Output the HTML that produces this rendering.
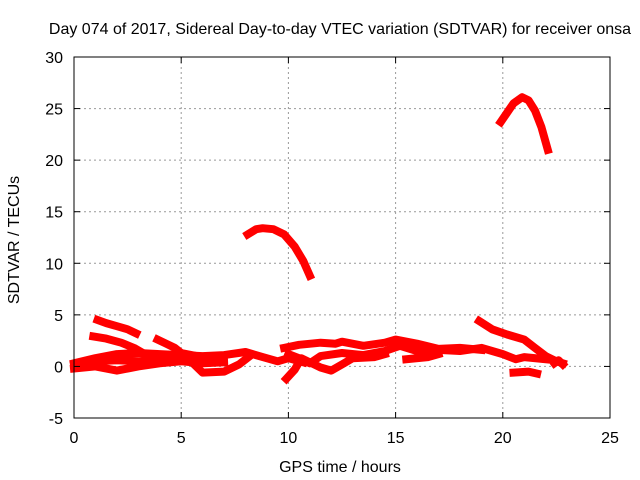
<!DOCTYPE html>
<html><head><meta charset="utf-8"><style>
body{margin:0;background:#fff}
svg{display:block;font-family:"Liberation Sans",sans-serif;font-size:16px}
</style></head><body>
<svg id="c" width="640" height="480">
<text x="340" y="34" text-anchor="middle">Day 074 of 2017, Sidereal Day-to-day VTEC variation (SDTVAR) for receiver onsa</text>
<text x="340" y="472" text-anchor="middle">GPS time / hours</text>
<text transform="translate(19,240) rotate(-90)" text-anchor="middle">SDTVAR / TECUs</text>
<g id="grid"></g><g id="marks"></g><g id="axes"></g>
</svg>
<script>
const xTicks=[0,5,10,15,20,25];
const yTicks=[-5,0,5,10,15,20,25,30];
const trackTimes=[
[8.1,8.5,8.8,9.3,9.8,10.3,10.7,11.0],
[19.9,20.2,20.5,20.9,21.2,21.5,21.8,22.1],
[1.1,1.5,2.0,2.5,2.9],
[0.9,1.5,2.2,2.8,3.3,3.8],
[3.9,4.3,4.7,5.0,5.5],
[0,1,2,3,4,5,6,7,8,8.8,9.5,10,10.7],
[0,1,2,3,4,5,5.5,6,7,7.7,8.2],
[0,1,2,3,4,5,6,7],
[9.8,10.5,11.5,12.2,12.5,13.5,14.5,15,16,17,18,19],
[10,10.5,11,11.5,12.5,13.5,14.5,15.2,16,17,18,19,20,20.6,21,22],
[9.9,10.3,10.6,11,11.5,12,12.5,13,14,14.5],
[18.9,19.5,20.2,21,21.5,22,22.5,22.8],
[20.5,21.2,21.6],
[22.4,22.6,22.8],
[15.5,16.5,17]
];
const trackValues=[
[12.8,13.3,13.4,13.3,12.8,11.6,10.2,8.8],
[23.7,24.6,25.5,26.1,25.8,24.8,23.2,21.0],
[4.5,4.2,3.9,3.6,3.2],
[2.9,2.7,2.3,1.8,1.2,0.7],
[2.6,2.2,1.8,1.3,1.1],
[0.3,0.8,1.2,1.3,1.2,1.1,1.0,1.1,1.4,0.9,0.5,0.8,0.4],
[-0.2,0,-0.4,0,0.3,0.5,0.4,-0.6,-0.5,0.2,1.0],
[0.2,0.5,0.6,0.5,0.7,0.6,0.3,0.4],
[1.8,2.1,2.3,2.2,2.4,2.0,2.3,2.6,2.2,1.7,1.8,1.6],
[1.2,0.8,0.3,1.0,1.3,1.1,1.5,2.0,1.5,1.6,1.5,1.8,1.2,0.7,0.9,0.7],
[-1.2,-0.3,0.8,0.4,-0.1,-0.4,0.2,0.8,0.9,1.2],
[4.4,3.6,3.1,2.6,1.8,1.0,0.5,0.3],
[-0.6,-0.5,-0.7],
[0.3,0.6,0.2],
[0.7,0.9,1.2]
];
const L=74,R=610,T=57,B=418,x0=0,x1=25,y0=-5,y1=30;
const X=v=>L+(v-x0)/(x1-x0)*(R-L);
const Y=v=>B-(v-y0)/(y1-y0)*(B-T);
const NS='http://www.w3.org/2000/svg';
function mk(tag,attrs,parent){const e=document.createElementNS(NS,tag);for(const k in attrs)e.setAttribute(k,attrs[k]);parent.appendChild(e);return e;}
const grid=document.getElementById('grid'),axes=document.getElementById('axes'),marks=document.getElementById('marks');
xTicks.forEach(t=>{
  if(t>x0&&t<x1){const g=mk('line',{x1:X(t),x2:X(t),y1:T,y2:B,stroke:'#999','stroke-dasharray':'2,3'},grid);
  
  }
  mk('line',{x1:X(t),x2:X(t),y1:B,y2:B-6,stroke:'#000'},axes);
  mk('line',{x1:X(t),x2:X(t),y1:T,y2:T+6,stroke:'#000'},axes);
  const l=mk('text',{x:X(t),y:B+25,'text-anchor':'middle'},axes);l.textContent=t;
  
  
});
yTicks.forEach(t=>{
  if(t>y0&&t<y1){const g=mk('line',{x1:L,x2:R,y1:Y(t),y2:Y(t),stroke:'#999','stroke-dasharray':'2,3'},grid);
  
  }
  mk('line',{x1:L,x2:L+6,y1:Y(t),y2:Y(t),stroke:'#000'},axes);
  mk('line',{x1:R,x2:R-6,y1:Y(t),y2:Y(t),stroke:'#000'},axes);
  const l=mk('text',{x:L-11,y:Y(t)+6,'text-anchor':'end'},axes);l.textContent=t;
  
  
});
const fr=mk('rect',{x:L,y:T,width:R-L,height:B-T,fill:'none',stroke:'#000'},axes);


trackTimes.forEach((ts,i)=>{
  const pts=ts.map((t,j)=>X(t).toFixed(1)+','+Y(trackValues[i][j]).toFixed(1)).join(' ');
  const p=mk('polyline',{points:pts,fill:'none',stroke:'#f00','stroke-width':8,'stroke-linejoin':'round','stroke-linecap':'square'},marks);
  
  
});
</script>
</body></html>
